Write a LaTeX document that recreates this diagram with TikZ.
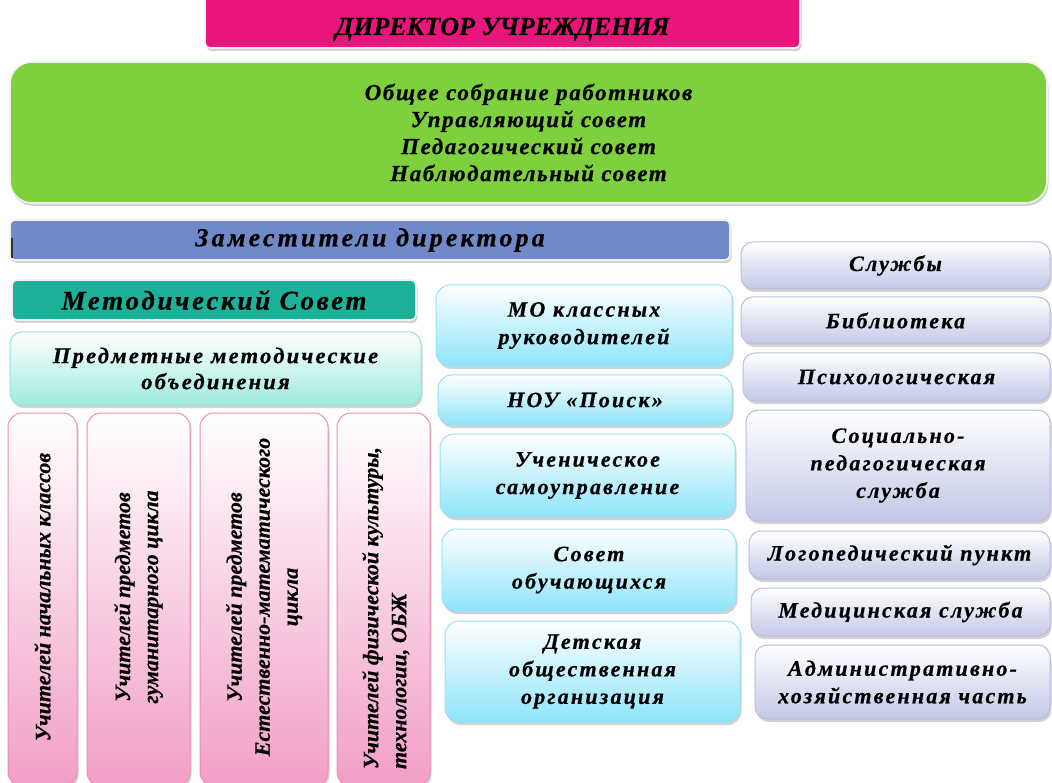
\documentclass[tikz,border=0pt]{standalone}
\usepackage{fontspec}
\setmainfont{Liberation Serif}[BoldItalicFeatures={FakeBold=0.6}]
\newfontfamily\wideserif{Liberation Serif}[LetterSpace=10,BoldItalicFeatures={FakeBold=0.6}]
\newfontfamily\greenserif{Liberation Serif}[LetterSpace=7,BoldItalicFeatures={FakeBold=0.6}]
\newfontfamily\zamserif{Liberation Serif}[LetterSpace=12,BoldItalicFeatures={FakeBold=0.6}]
\usetikzlibrary{shadows}
\definecolor{dirpink}{RGB}{232,22,122}
\definecolor{govgreen}{RGB}{126,209,61}
\definecolor{zamblue}{RGB}{114,137,201}
\definecolor{metteal}{RGB}{29,177,153}
\definecolor{aquabot}{RGB}{158,235,221}
\definecolor{aquaedge}{RGB}{150,228,214}
\definecolor{pinkbot}{RGB}{242,159,197}
\definecolor{pinkedge}{RGB}{238,140,186}
\definecolor{cyanbot}{RGB}{142,228,250}
\definecolor{cyanedge}{RGB}{150,225,245}
\definecolor{lavbot}{RGB}{195,200,231}
\definecolor{lavedge}{RGB}{184,190,221}
\tikzset{
  x=1pt, y=-1pt,
  boxbase/.style={rectangle, align=center, inner sep=2pt,
    drop shadow={shadow xshift=1.5pt, shadow yshift=-3pt, opacity=0.35}},
  solidbox/.style={boxbase, draw=white!88!gray, line width=1.6pt, rounded corners=5pt},
  dirbox/.style={solidbox, fill=dirpink, font=\fontsize{26}{30}\selectfont\bfseries\itshape},
  govbox/.style={solidbox, fill=govgreen, rounded corners=22pt,
    font=\greenserif\fontsize{23}{27}\selectfont\bfseries\itshape},
  zambox/.style={solidbox, fill=zamblue, font=\zamserif\fontsize{26}{28}\selectfont\bfseries\itshape},
  metbox/.style={solidbox, fill=metteal, font=\wideserif\fontsize{27}{30}\selectfont\bfseries\itshape},
  predbox/.style={boxbase, draw=aquaedge, line width=1pt, rounded corners=12pt,
    top color=white, bottom color=aquabot,
    font=\wideserif\fontsize{22.5}{26}\selectfont\bfseries\itshape},
  pinkbox/.style={boxbase, draw=pinkedge, line width=1pt, rounded corners=14pt,
    top color=white, bottom color=pinkbot},
  pinktext/.style={rotate=90, align=center, inner sep=0pt,
    font=\fontsize{22}{28}\selectfont\bfseries\itshape},
  cyanbox/.style={boxbase, draw=cyanedge, line width=1pt, rounded corners=14pt,
    top color=white, bottom color=cyanbot,
    font=\wideserif\fontsize{22}{27.5}\selectfont\bfseries\itshape},
  lavbox/.style={boxbase, draw=lavedge, line width=1pt, rounded corners=12pt,
    top color=white, bottom color=lavbot,
    font=\wideserif\fontsize{22}{27.5}\selectfont\bfseries\itshape},
}
\begin{document}
\begin{tikzpicture}
\useasboundingbox (0,0) rectangle (1052,783);
\clip (0,0) rectangle (1052,783);
\fill[white] (0,0) rectangle (1052,783);

% top
\node[dirbox, minimum width=595pt, minimum height=60pt, text height=34pt, text depth=0pt] (dir) at (502.5,18) {ДИРЕКТОР УЧРЕЖДЕНИЯ};
\node[govbox, minimum width=1037pt, minimum height=141pt] (gov) at (528.5,132.5)
  {Общее собрание работников\\Управляющий совет\\Педагогический совет\\Наблюдательный совет};
\node[zambox, minimum width=720pt, minimum height=40pt] (zam) at (370,240) {Заместители директора};
\draw[line width=1.2pt, black!80] (12,238) -- (12,258);

% left
\node[metbox, minimum width=404pt, minimum height=40pt] (met) at (214,300) {Методический Совет};
\node[predbox, minimum width=411pt, minimum height=73pt] (pred) at (215.5,368.5)
  {Предметные методические\\объединения};
\node[pinkbox, minimum width=69pt, minimum height=373pt] (p1) at (42.5,599.5) {};
\node[pinkbox, minimum width=103pt, minimum height=373pt] (p2) at (138.5,599.5) {};
\node[pinkbox, minimum width=128pt, minimum height=373pt] (p3) at (264,599.5) {};
\node[pinkbox, minimum width=93pt, minimum height=373pt] (p4) at (383.5,599.5) {};
\node[pinktext] (t1) at (42.5,597) {Учителей начальных классов};
\node[pinktext] (t2) at (138.5,597) {Учителей предметов\\гуманитарного цикла};
\node[pinktext] (t3) at (264,597) {Учителей предметов\\Естественно-математического\\цикла};
\node[pinktext, align=left] (t4) at (386,608) {Учителей физической культуры,\\технологии, ОБЖ};

% middle
\node[cyanbox, minimum width=296pt, minimum height=81pt] (mo) at (584,325.5) {МО классных\\руководителей};
\node[cyanbox, minimum width=294pt, minimum height=50pt] (nou) at (585,400) {НОУ «Поиск»};
\node[cyanbox, minimum width=295pt, minimum height=83pt] (uch) at (587.5,475.5) {Ученическое\\самоуправление};
\node[cyanbox, minimum width=294pt, minimum height=82pt] (sov) at (589,570) {Совет\\обучающихся};
\node[cyanbox, minimum width=295pt, minimum height=101pt] (det) at (592.5,671.5) {Детская\\общественная\\организация};

% right
\node[lavbox, minimum width=309pt, minimum height=47pt] (slu) at (895.5,265.5) {Службы};
\node[lavbox, minimum width=309pt, minimum height=47pt] (bib) at (895.5,320.5) {Библиотека};
\node[lavbox, minimum width=307pt, minimum height=48pt] (psy) at (896.5,377) {Психологическая};
\node[lavbox, minimum width=304pt, minimum height=111pt] (soc) at (898,465.5) {Социально-\\педагогическая\\служба};
\node[lavbox, minimum width=301pt, minimum height=48pt] (log) at (899.5,555) {Логопедический пункт};
\node[lavbox, minimum width=299pt, minimum height=48pt] (med) at (900.5,612) {Медицинская служба};
\node[lavbox, minimum width=295pt, minimum height=74pt] (adm) at (902.5,682) {Административно-\\хозяйственная часть};
\end{tikzpicture}
\end{document}
